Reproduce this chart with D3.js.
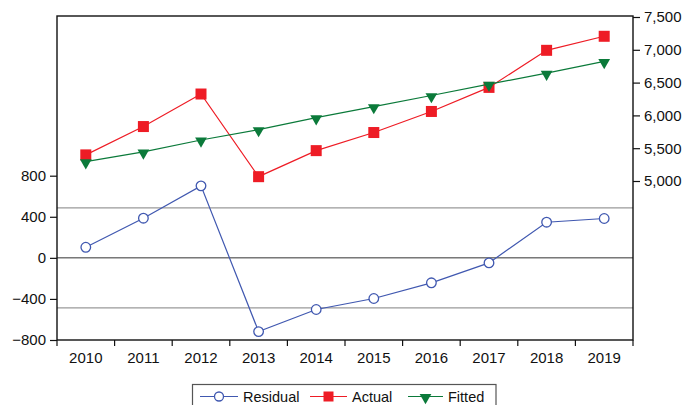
<!DOCTYPE html>
<html>
<head>
<meta charset="utf-8">
<script src="https://cdn.jsdelivr.net/npm/d3@7"></script>
<style>
  body { margin: 0; background: #fff; }
  svg text { font-family: "Liberation Sans", Arial, sans-serif; fill: #111; }
</style>
</head>
<body>
<div id="chart"></div>
<script>
// data
var years = ["2010", "2011", "2012", "2013", "2014", "2015", "2016", "2017", "2018", "2019"];
var actual = [5398, 5830, 6326, 5066, 5463, 5739, 6060, 6427, 6992, 7206];
var fitted = [5295, 5444, 5625, 5784, 5966, 6135, 6303, 6476, 6645, 6823];
var residual = [103, 386, 701, -718, -503, -396, -243, -49, 347, 383];
var seBand = 487;
var leftTicks = [-800, -400, 0, 400, 800];
var rightTicks = [5000, 5500, 6000, 6500, 7000, 7500];

var width = 686, height = 405;
var plotLeft = 57, plotRight = 633, plotTop = 16, plotBottom = 340;

var blue = "#4058b0", red = "#ee1c25", green = "#0b7a3a";

var svg = d3.select("#chart").append("svg")
  .attr("width", width)
  .attr("height", height);

var x = d3.scaleBand().domain(years).range([plotLeft, plotRight]);
// residual scale: -800 at bottom, 800 at y 175.7
var yRes = d3.scaleLinear().domain([-800, 800]).range([plotBottom, 175.7]);
// actual/fitted scale: 5000 at y 181, 7500 at y 17
var yVal = d3.scaleLinear().domain([5000, 7500]).range([181, 17]);

// standard error band and zero line
svg.selectAll(".se").data([seBand, -seBand]).enter().append("line")
  .attr("x1", plotLeft).attr("x2", plotRight)
  .attr("y1", function(d) { return yRes(d); })
  .attr("y2", function(d) { return yRes(d); })
  .attr("stroke", "#9a9a9a").attr("stroke-width", 1.2);
svg.append("line")
  .attr("x1", plotLeft).attr("x2", plotRight)
  .attr("y1", yRes(0)).attr("y2", yRes(0))
  .attr("stroke", "#333").attr("stroke-width", 1);

// frame
svg.append("rect")
  .attr("x", plotLeft).attr("y", plotTop)
  .attr("width", plotRight - plotLeft).attr("height", plotBottom - plotTop)
  .attr("fill", "none").attr("stroke", "#111").attr("stroke-width", 1.4);

// left axis
var leftAxis = svg.append("g")
  .attr("transform", "translate(" + plotLeft + ",0)")
  .call(d3.axisLeft(yRes).tickValues(leftTicks).tickSize(7).tickPadding(4).tickFormat(d3.format("d")));
leftAxis.select(".domain").remove();

// right axis
var rightAxis = svg.append("g")
  .attr("transform", "translate(" + plotRight + ",0)")
  .call(d3.axisRight(yVal).tickValues(rightTicks).tickSize(7).tickPadding(4).tickFormat(d3.format(",")));
rightAxis.select(".domain").remove();

// bottom axis, ticks at band edges
var bottomAxis = svg.append("g")
  .attr("transform", "translate(0," + plotBottom + ")")
  .call(d3.axisBottom(x).tickSize(0).tickPadding(12));
bottomAxis.select(".domain").remove();
var edges = years.map(function(d) { return x(d); }).concat([plotRight]);
svg.selectAll(".xtick").data(edges).enter().append("line")
  .attr("x1", function(d) { return d; }).attr("x2", function(d) { return d; })
  .attr("y1", plotBottom).attr("y2", plotBottom + 6)
  .attr("stroke", "#111").attr("stroke-width", 1.2);

svg.selectAll(".tick text").attr("font-size", 15).style("font-family", "Liberation Sans, Arial, sans-serif");
svg.selectAll(".tick line").attr("stroke", "#111").attr("stroke-width", 1.2);

function cx(i) { return x(years[i]) + x.bandwidth() / 2; }

// residual
svg.append("path")
  .datum(residual)
  .attr("fill", "none").attr("stroke", blue).attr("stroke-width", 1.2)
  .attr("d", d3.line().x(function(d, i) { return cx(i); }).y(function(d) { return yRes(d); }));
svg.selectAll(".res").data(residual).enter().append("circle")
  .attr("cx", function(d, i) { return cx(i); })
  .attr("cy", function(d) { return yRes(d); })
  .attr("r", 4.8)
  .attr("fill", "#fff").attr("stroke", blue).attr("stroke-width", 1.3);

// actual
svg.append("path")
  .datum(actual)
  .attr("fill", "none").attr("stroke", red).attr("stroke-width", 1.2)
  .attr("d", d3.line().x(function(d, i) { return cx(i); }).y(function(d) { return yVal(d); }));
svg.selectAll(".act").data(actual).enter().append("rect")
  .attr("x", function(d, i) { return cx(i) - 5.5; })
  .attr("y", function(d) { return yVal(d) - 5.5; })
  .attr("width", 11).attr("height", 11)
  .attr("fill", red);

// fitted
var tri = d3.symbol().type(d3.symbolTriangle).size(60);
svg.append("path")
  .datum(fitted)
  .attr("fill", "none").attr("stroke", green).attr("stroke-width", 1.2)
  .attr("d", d3.line().x(function(d, i) { return cx(i); }).y(function(d) { return yVal(d); }));
svg.selectAll(".fit").data(fitted).enter().append("path")
  .attr("d", tri)
  .attr("transform", function(d, i) { return "translate(" + cx(i) + "," + (yVal(d) + 1) + ") rotate(180)"; })
  .attr("fill", green);

// legend
var legend = svg.append("g");
legend.append("rect")
  .attr("x", 192.5).attr("y", 384.5)
  .attr("width", 303.5).attr("height", 30)
  .attr("fill", "#fff").attr("stroke", "#555").attr("stroke-width", 1.2);

var items = [
  { name: "Residual", color: blue, x0: 200, x1: 238, tx: 243, mark: "circle" },
  { name: "Actual", color: red, x0: 310, x1: 347, tx: 352, mark: "square" },
  { name: "Fitted", color: green, x0: 408, x1: 443, tx: 448, mark: "tri" }
];
var ly = 396.5;
items.forEach(function(it) {
  legend.append("line")
    .attr("x1", it.x0).attr("x2", it.x1).attr("y1", ly).attr("y2", ly)
    .attr("stroke", it.color).attr("stroke-width", 1.2);
  var mx = (it.x0 + it.x1) / 2;
  if (it.mark === "circle") {
    legend.append("circle").attr("cx", mx).attr("cy", ly).attr("r", 4.5)
      .attr("fill", "#fff").attr("stroke", it.color).attr("stroke-width", 1.3);
  } else if (it.mark === "square") {
    legend.append("rect").attr("x", mx - 5).attr("y", ly - 5).attr("width", 10).attr("height", 10)
      .attr("fill", it.color);
  } else {
    legend.append("path").attr("d", tri)
      .attr("transform", "translate(" + mx + "," + (ly + 1) + ") rotate(180)")
      .attr("fill", it.color);
  }
  legend.append("text")
    .attr("x", it.tx).attr("y", ly + 5)
    .attr("font-size", 14.5)
    .text(it.name);
});
</script>
</body>
</html>
